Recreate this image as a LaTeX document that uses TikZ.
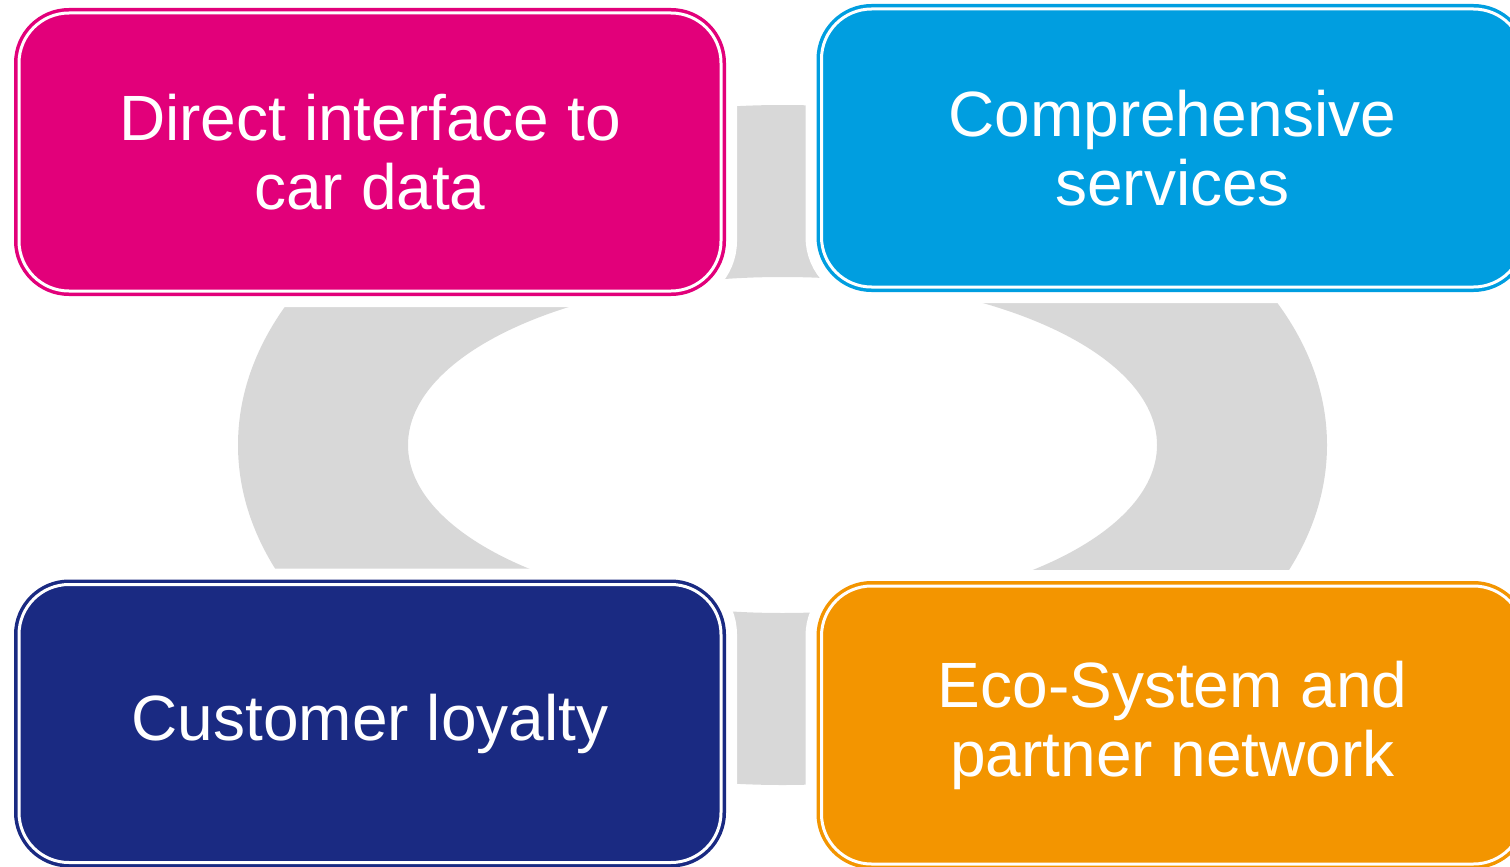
\documentclass[tikz,border=0pt]{standalone}
\usepackage{fontspec}
\setmainfont{Liberation Sans}
\usetikzlibrary{positioning}

\definecolor{magentabox}{RGB}{226,0,122}
\definecolor{bluebox}{RGB}{0,158,224}
\definecolor{navybox}{RGB}{26,42,130}
\definecolor{orangebox}{RGB}{243,149,0}
\definecolor{ringgray}{RGB}{216,216,216}

\begin{document}
\begin{tikzpicture}[x=1pt, y=-1pt,
    topic/.style={rectangle, rounded corners=50pt, minimum width=702pt, minimum height=278pt,
                  line width=3.5pt, double=white, double distance=3pt,
                  preaction={draw=white, line width=32pt},
                  text=white, align=center, font=\fontsize{64}{69}\selectfont}]

    \useasboundingbox (0,0) rectangle (1510,867);

    % grey ring behind the four boxes
    \fill[ringgray, even odd rule] (782.5,445) ellipse [x radius=544.5pt, y radius=340pt]
                                   (782.5,445) ellipse [x radius=374.5pt, y radius=168pt];

    \node[topic, draw=magentabox, fill=magentabox] (direct)   at (370,152)    {Direct interface to\\car data};
    \node[topic, draw=bluebox,    fill=bluebox]    (services) at (1172.5,148) {Comprehensive\\services};
    \node[topic, draw=navybox,    fill=navybox]    (loyalty)  at (370,723.5)  {Customer loyalty};
    \node[topic, draw=orangebox,  fill=orangebox]  (partner)  at (1172.5,725) {Eco-System and\\partner network};

\end{tikzpicture}
\end{document}
